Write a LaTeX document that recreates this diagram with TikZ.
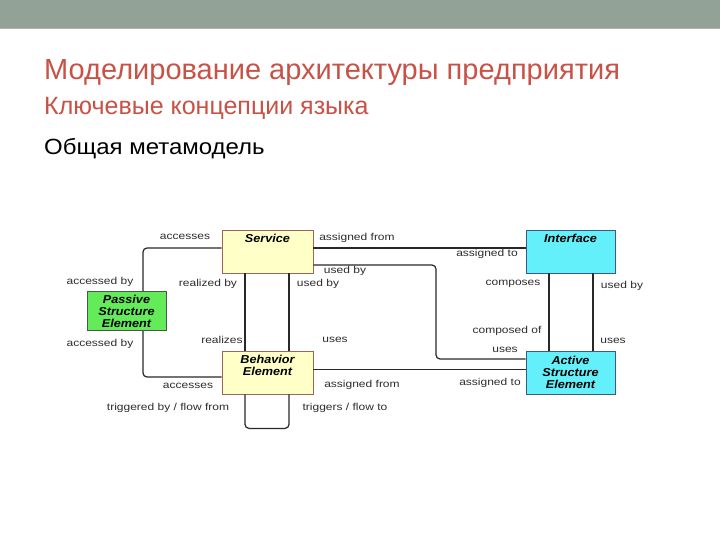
\documentclass[tikz,border=0pt]{standalone}
\usepackage{fontspec}
\setmainfont{Liberation Sans}
\newfontfamily\lblfont[FakeStretch=1.2]{Liberation Sans}
\newfontfamily\boxfont[FakeStretch=1.1]{Liberation Sans}
\newfontfamily\thrfont[FakeStretch=1.09]{Liberation Sans}
\usetikzlibrary{calc}
\definecolor{band}{RGB}{147,162,150}
\definecolor{bandline}{RGB}{170,180,170}
\definecolor{ttl}{RGB}{200,82,70}
\definecolor{svcfill}{RGB}{255,255,200}
\definecolor{svcdraw}{RGB}{160,100,90}
\definecolor{cyanfill}{RGB}{100,240,250}
\definecolor{cyandraw}{RGB}{60,90,130}
\definecolor{greenfill}{RGB}{100,235,90}
\definecolor{greendraw}{RGB}{70,90,70}
\definecolor{lncol}{RGB}{40,40,40}
\definecolor{txtcol}{RGB}{45,45,45}
\tikzset{
  boxbase/.style={rectangle, draw, line width=0.8pt, inner sep=1pt,
    font=\boxfont\fontsize{11.5}{12}\selectfont\bfseries\itshape, align=center, text=black},
  yelbox/.style={boxbase, fill=svcfill, draw=svcdraw, minimum width=91pt, minimum height=43pt},
  cyanbox/.style={boxbase, fill=cyanfill, draw=cyandraw, minimum width=89pt, minimum height=43pt},
  grnbox/.style={boxbase, fill=greenfill, draw=greendraw, minimum width=79pt, minimum height=39pt},
  toplbl/.style={font=\boxfont\fontsize{11.5}{12}\selectfont\bfseries\itshape, inner sep=4.5pt, anchor=north},
  conn/.style={draw=lncol, line width=1.2pt, rounded corners=4pt},
  lbl/.style={font=\lblfont\fontsize{10}{11}\selectfont, text=txtcol, inner sep=0pt}
}
\begin{document}
\begin{tikzpicture}[x=1pt,y=-1pt]
\useasboundingbox (0,0) rectangle (720,540);
\fill[white] (0,0) rectangle (720,540);
\fill[band] (0,0) rectangle (720,28);
\fill[bandline] (0,28) rectangle (720,29.5);

% titles
\node[anchor=base west, inner sep=0pt, text=ttl, font=\fontsize{29}{31}\selectfont] (t1) at (44,80) {Моделирование архитектуры предприятия};
\node[anchor=base west, inner sep=0pt, text=ttl, font=\fontsize{25}{27}\selectfont] (t2) at (44,115) {Ключевые концепции языка};
\node[anchor=base west, inner sep=0pt, text=black, font=\thrfont\fontsize{22}{24}\selectfont] (t3) at (44,155) {Общая метамодель};

% boxes
\node[yelbox, label={[toplbl]north:Service}] (svc) at (267.5,251.5) {};
\node[cyanbox, label={[toplbl]north:Interface}] (int) at (570.5,251.5) {};
\node[grnbox] (psv) at (126.5,311) {Passive\\Structure\\Element};
\node[yelbox, label={[toplbl, align=center]north:Behavior\\Element}] (beh) at (267.5,372.5) {};
\node[cyanbox] (act) at (570.5,372.5) {Active\\Structure\\Element};

\coordinate (bend) at (436,310);

% connectors
\draw[conn] ([yshift=3.5pt]svc.west) -| ([xshift=16.5pt]psv.north);
\draw[conn] ([xshift=16.5pt]psv.south) |- ([yshift=-4.5pt]beh.west);
\draw[conn] ([xshift=-22.5pt]svc.south) -- ([xshift=-22.5pt]beh.north);
\draw[conn] ([xshift=21.5pt]svc.south) -- ([xshift=21.5pt]beh.north);
\draw[conn] ([xshift=-22.5pt]beh.south) -- ++(0,34) -| ([xshift=21.5pt]beh.south);
\draw[conn] ([yshift=3.5pt]svc.east) -- ([yshift=3.5pt]int.west);
\draw[conn] ([yshift=-13.5pt]svc.east) -| (bend) |- ([yshift=13.5pt]act.west);
\draw[conn] ([xshift=-21.5pt]int.south) -- ([xshift=-21.5pt]act.north);
\draw[conn] ([xshift=22.5pt]int.south) -- ([xshift=22.5pt]act.north);
\draw[conn] ([yshift=3pt]beh.east) -- ([yshift=3pt]act.west);

% labels
\node[lbl] (l1) at (185,237) {accesses};
\node[lbl] (l2) at (100,282) {accessed by};
\node[lbl] (l3) at (208,284) {realized by};
\node[lbl] (l4) at (318,284) {used by};
\node[lbl] (l5) at (345,271) {used by};
\node[lbl] (l6) at (357,238) {assigned from};
\node[lbl] (l7) at (487,254) {assigned to};
\node[lbl] (l8) at (513,284) {composes};
\node[lbl] (l9) at (622,286) {used by};
\node[lbl] (l10) at (507,331) {composed of};
\node[lbl] (l11) at (505,350) {uses};
\node[lbl] (l12) at (613,341) {uses};
\node[lbl] (l13) at (222,340) {realizes};
\node[lbl] (l14) at (335,340) {uses};
\node[lbl] (l15) at (100,344) {accessed by};
\node[lbl] (l16) at (188,386) {accesses};
\node[lbl] (l17) at (362,385) {assigned from};
\node[lbl] (l18) at (490,383) {assigned to};
\node[lbl] (l19) at (168,408) {triggered by / flow from};
\node[lbl] (l20) at (345,408) {triggers / flow to};
\end{tikzpicture}
\end{document}
